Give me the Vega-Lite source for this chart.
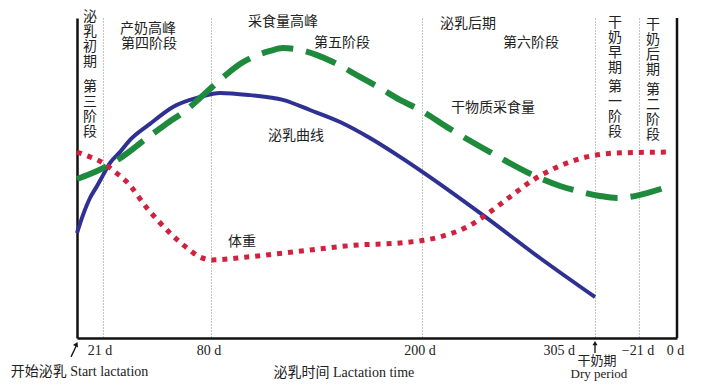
{
  "$schema": "https://vega.github.io/schema/vega-lite/v6.json",
  "width": 600,
  "height": 320,
  "autosize": {"type": "none"},
  "padding": {"left": 77, "top": 18, "right": 25, "bottom": 54},
  "background": "white",
  "config": {
    "view": {"stroke": null},
    "text": {"font": "Liberation Serif, Noto Sans CJK SC", "fontSize": 14, "color": "#222222"}
  },
  "datasets": {
    "curves": [
      {"series": "milk", "day": 0, "v": 32.8}, {"series": "milk", "day": 4.9, "v": 38.4}, {"series": "milk", "day": 10.7, "v": 43.75}, {"series": "milk", "day": 16.5, "v": 47.5}, {"series": "milk", "day": 21.3, "v": 50.9}, {"series": "milk", "day": 25.1, "v": 54.7}, {"series": "milk", "day": 30.5, "v": 58.1}, {"series": "milk", "day": 36.0, "v": 61.9}, {"series": "milk", "day": 46.8, "v": 66.9}, {"series": "milk", "day": 59.3, "v": 72.2}, {"series": "milk", "day": 74.0, "v": 75.3}, {"series": "milk", "day": 85.1, "v": 76.6}, {"series": "milk", "day": 102.2, "v": 75.9}, {"series": "milk", "day": 120.9, "v": 74.4}, {"series": "milk", "day": 136.3, "v": 71.25}, {"series": "milk", "day": 153.4, "v": 67.5}, {"series": "milk", "day": 170.4, "v": 62.5}, {"series": "milk", "day": 187.5, "v": 56.6}, {"series": "milk", "day": 200, "v": 52.0}, {"series": "milk", "day": 237.0, "v": 38.4}, {"series": "milk", "day": 271.6, "v": 25.0}, {"series": "milk", "day": 305, "v": 12.8},
      {"series": "intake", "day": 0, "v": 49.7}, {"series": "intake", "day": 10.7, "v": 51.25}, {"series": "intake", "day": 21.3, "v": 53.1}, {"series": "intake", "day": 31.6, "v": 56.6}, {"series": "intake", "day": 45.2, "v": 62.5}, {"series": "intake", "day": 55.0, "v": 66.6}, {"series": "intake", "day": 68.6, "v": 72.2}, {"series": "intake", "day": 74.0, "v": 75.0}, {"series": "intake", "day": 80, "v": 78.1}, {"series": "intake", "day": 89.1, "v": 82.5}, {"series": "intake", "day": 96.5, "v": 85.6}, {"series": "intake", "day": 105.0, "v": 88.1}, {"series": "intake", "day": 113.6, "v": 89.7}, {"series": "intake", "day": 120.9, "v": 90.6}, {"series": "intake", "day": 130.6, "v": 90.0}, {"series": "intake", "day": 140.3, "v": 88.4}, {"series": "intake", "day": 149.4, "v": 86.25}, {"series": "intake", "day": 164.7, "v": 81.6}, {"series": "intake", "day": 176.1, "v": 78.1}, {"series": "intake", "day": 187.5, "v": 74.4}, {"series": "intake", "day": 198.9, "v": 71.25}, {"series": "intake", "day": 215.2, "v": 65.9}, {"series": "intake", "day": 241.3, "v": 58.1}, {"series": "intake", "day": 267.4, "v": 50.9}, {"series": "intake", "day": 283.8, "v": 47.5}, {"series": "intake", "day": 297.1, "v": 45.6}, {"series": "intake", "day": 309.4, "v": 44.4}, {"series": "intake", "day": 324.5, "v": 43.75}, {"series": "intake", "day": 336.0, "v": 44.1}, {"series": "intake", "day": 348.4, "v": 45.3}, {"series": "intake", "day": 359.5, "v": 47.2},
      {"series": "weight", "day": 0, "v": 58.1}, {"series": "weight", "day": 10.7, "v": 56.6}, {"series": "weight", "day": 21.3, "v": 54.7}, {"series": "weight", "day": 27.8, "v": 51.9}, {"series": "weight", "day": 34.3, "v": 48.75}, {"series": "weight", "day": 45.2, "v": 40.6}, {"series": "weight", "day": 57.7, "v": 32.8}, {"series": "weight", "day": 67.0, "v": 28.1}, {"series": "weight", "day": 74.0, "v": 25.3}, {"series": "weight", "day": 80.6, "v": 24.4}, {"series": "weight", "day": 100.5, "v": 25.3}, {"series": "weight", "day": 126.6, "v": 26.9}, {"series": "weight", "day": 164.7, "v": 29.1}, {"series": "weight", "day": 187.5, "v": 29.7}, {"series": "weight", "day": 210.9, "v": 31.6}, {"series": "weight", "day": 227.3, "v": 34.7}, {"series": "weight", "day": 237.0, "v": 37.8}, {"series": "weight", "day": 253.4, "v": 44.1}, {"series": "weight", "day": 267.4, "v": 49.4}, {"series": "weight", "day": 282.0, "v": 53.4}, {"series": "weight", "day": 297.7, "v": 56.3}, {"series": "weight", "day": 324.5, "v": 57.8}, {"series": "weight", "day": 359.5, "v": 58.1}
    ],
    "frame": [{"day": 365, "v": 0, "v2": 100}],
    "labels": [
      {"label": "产奶高峰", "day": 45.7, "v": 96.6},
      {"label": "第四阶段", "day": 46.3, "v": 91.9},
      {"label": "采食量高峰", "day": 120.9, "v": 98.75},
      {"label": "第五阶段", "day": 154.5, "v": 92.2},
      {"label": "泌乳后期", "day": 227.9, "v": 98.1},
      {"label": "第六阶段", "day": 266.2, "v": 92.2},
      {"label": "干物质采食量", "day": 243.1, "v": 71.9},
      {"label": "泌乳曲线", "day": 128.3, "v": 63.1},
      {"label": "体重", "day": 97.6, "v": 30.0},
      {"label": "21 d", "day": 18.9, "v": -4.06},
      {"label": "80 d", "day": 78.9, "v": -4.06},
      {"label": "200 d", "day": 198.9, "v": -4.06},
      {"label": "−21 d", "day": 343.1, "v": -4.06},
      {"label": "0 d", "day": 364.2, "v": -4.06},
      {"label": "泌乳时间  Lactation time", "day": 155.6, "v": -10.9},
      {"label": "开始泌乳  Start lactation", "day": 2.1, "v": -10.6}
    ],
    "smalllabels": [
      {"label": "干奶期", "day": 306.8, "v": -7.1},
      {"label": "Dry period", "day": 308.5, "v": -11.3}
    ],
    "rightlabels": [{"label": "305 d", "day": 292.9, "v": -4.06}],
    "vlabels": [
      {"label": "泌\n乳\n初\n期", "day": 10.7, "v": 100.3},
      {"label": "第\n三\n阶\n段", "day": 10.7, "v": 78.4},
      {"label": "干\n奶\n早\n期", "day": 322.7, "v": 98.4},
      {"label": "第\n一\n阶\n段", "day": 322.7, "v": 78.4},
      {"label": "干\n奶\n后\n期", "day": 351.7, "v": 97.8},
      {"label": "第\n二\n阶\n段", "day": 351.7, "v": 77.5}
    ],
    "arrows": [
      {"day": -4.9, "v": -5.9, "day2": -0.6, "v2": -2.4},
      {"day": 305, "v": -4.7, "day2": 305, "v2": -2.0}
    ],
    "headStart": [{"day": -0.4, "v": -1.9}],
    "headDry": [{"day": 305, "v": -1.6}]
  },
  "encoding": {
    "x": {
      "field": "day", "type": "quantitative",
      "scale": {"domain": [0, 21, 80, 200, 305, 344, 365], "range": [0, 25.5, 134, 345, 518, 562, 600], "nice": false, "zero": false},
      "axis": {"values": [21, 80, 200, 305, 344], "labels": false, "ticks": false, "title": null, "grid": true, "gridColor": "#8a8a8a", "gridDash": [1, 2], "gridWidth": 1, "domainColor": "#111111", "domainWidth": 2.5}
    },
    "y": {
      "field": "v", "type": "quantitative",
      "scale": {"domain": [0, 100], "nice": false, "zero": false},
      "axis": {"labels": false, "ticks": false, "grid": false, "title": null, "domainColor": "#111111", "domainWidth": 2.5}
    }
  },
  "layer": [
    {"data": {"name": "frame"}, "mark": {"type": "rule", "color": "#111111", "strokeWidth": 2.5}, "encoding": {"y2": {"field": "v2"}}},
    {"data": {"name": "curves"}, "transform": [{"filter": "datum.series === 'milk'"}], "mark": {"type": "line", "color": "#2f3192", "strokeWidth": 4, "interpolate": "monotone"}},
    {"data": {"name": "curves"}, "transform": [{"filter": "datum.series === 'intake'"}], "mark": {"type": "line", "color": "#1e8a3c", "strokeWidth": 6, "strokeDash": [32, 13], "interpolate": "monotone"}},
    {"data": {"name": "curves"}, "transform": [{"filter": "datum.series === 'weight'"}], "mark": {"type": "line", "color": "#d2213f", "strokeWidth": 5, "strokeDash": [5, 6], "interpolate": "monotone"}},
    {"data": {"name": "labels"}, "mark": {"type": "text", "align": "center", "baseline": "middle"}, "encoding": {"text": {"field": "label"}}},
    {"data": {"name": "smalllabels"}, "mark": {"type": "text", "align": "center", "baseline": "middle", "fontSize": 13}, "encoding": {"text": {"field": "label"}}},
    {"data": {"name": "rightlabels"}, "mark": {"type": "text", "align": "right", "baseline": "middle"}, "encoding": {"text": {"field": "label"}}},
    {"data": {"name": "vlabels"}, "mark": {"type": "text", "align": "center", "baseline": "middle", "lineBreak": "\n", "lineHeight": 15}, "encoding": {"text": {"field": "label"}}},
    {"data": {"name": "arrows"}, "mark": {"type": "rule", "color": "#111111", "strokeWidth": 1.3}, "encoding": {"x2": {"field": "day2"}, "y2": {"field": "v2"}}},
    {"data": {"name": "headStart"}, "mark": {"type": "point", "shape": "triangle-up", "filled": true, "color": "#111111", "size": 30, "angle": 25, "opacity": 1}},
    {"data": {"name": "headDry"}, "mark": {"type": "point", "shape": "triangle-up", "filled": true, "color": "#111111", "size": 25, "opacity": 1}}
  ]
}
